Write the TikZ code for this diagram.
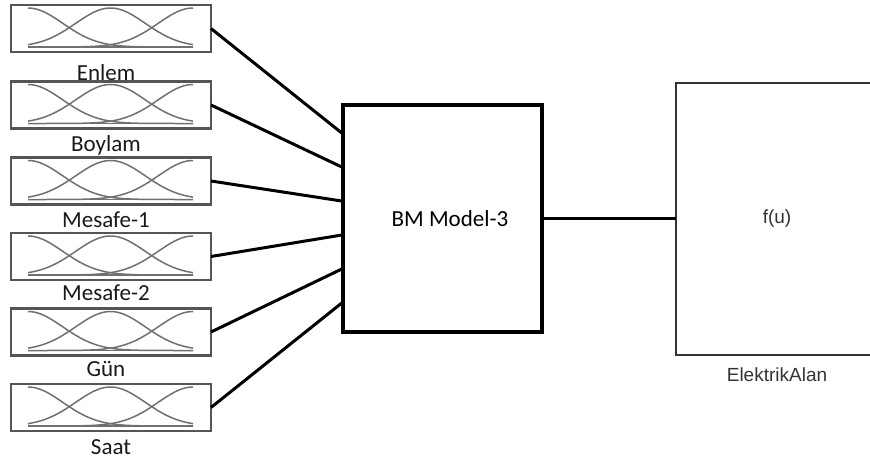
\documentclass[tikz,border=0pt]{standalone}
\usepackage{fontspec}
\setmainfont{Carlito}
\newfontfamily\arialf{Liberation Sans}
\usetikzlibrary{calc}
\definecolor{boxgray}{HTML}{555555}
\definecolor{curvegray}{HTML}{707070}
\definecolor{txtgray}{HTML}{333333}
\tikzset{
  inbox/.style={draw=boxgray, line width=2.2pt, minimum width=200pt, minimum height=47pt, inner sep=0pt, outer sep=0pt, fill=white},
  mfcurve/.style={draw=curvegray, line width=1.5pt},
  lab/.style={font=\fontsize{23}{27}\selectfont, inner sep=0pt, anchor=base, text=black!90},
  conn/.style={draw=black, line width=3pt},
  bmbox/.style={draw=black, line width=3.5pt, minimum width=199pt, minimum height=227pt, inner sep=0pt, outer sep=0pt, font=\fontsize{23}{27}\selectfont},
  fubox/.style={draw=txtgray, line width=2pt, minimum width=202pt, minimum height=272pt, inner sep=0pt, outer sep=0pt, font=\arialf\fontsize{19}{23}\selectfont, text=txtgray},
  fulab/.style={font=\arialf\fontsize{19}{23}\selectfont, text=txtgray, inner sep=0pt}
}
\begin{document}
\begin{tikzpicture}[x=1pt,y=-1pt]
\useasboundingbox (0,0) rectangle (870,461);
\clip (0,0) rectangle (870,461);
\fill[white] (0,0) rectangle (870,461);
% input boxes with membership functions
\foreach \i/\cy in {1/28.5,2/105,3/181,4/256.5,5/332,6/407.5}{
  \node[inbox] (in\i) at (111,\cy) {};
  \draw[mfcurve] plot[domain=28:193, samples=70, smooth] (\x, {\cy+18.5-39*exp(-0.5*((\x-28)/34.8)^2)});
  \draw[mfcurve] plot[domain=28:193, samples=70, smooth] (\x, {\cy+18.5-39*exp(-0.5*((\x-110.5)/34.8)^2)});
  \draw[mfcurve] plot[domain=28:193, samples=70, smooth] (\x, {\cy+18.5-39*exp(-0.5*((\x-193)/34.8)^2)});
  \draw[mfcurve] (28,\cy+18.5) -- (193,\cy+18.5);
}
% labels
\node[lab] (l1) at (106,80) {Enlem};
\node[lab] (l2) at (106,151) {Boylam};
\node[lab] (l3) at (106,227) {Mesafe-1};
\node[lab] (l4) at (106,300) {Mesafe-2};
\node[lab] (l5) at (106,376) {Gün};
\node[lab] (l6) at (111,454) {Saat};
% main block
\node[bmbox] (bm) at (442.5,218.5) {\hspace*{15pt}BM Model-3};
% output block
\node[fubox] (fu) at (777,219) {\raisebox{-4pt}{f(u)}};
\node[fulab] (fl) at (777,375) {ElektrikAlan};
% connectors
\foreach \i/\d in {1/29,2/62.6,3/96.2,4/129.8,5/163.4,6/197}{
  \draw[conn] (in\i.east) -- ([yshift=-\d pt]bm.north west);
}
\draw[conn] (bm.east) -- (bm.east -| fu.west);
\end{tikzpicture}
\end{document}
